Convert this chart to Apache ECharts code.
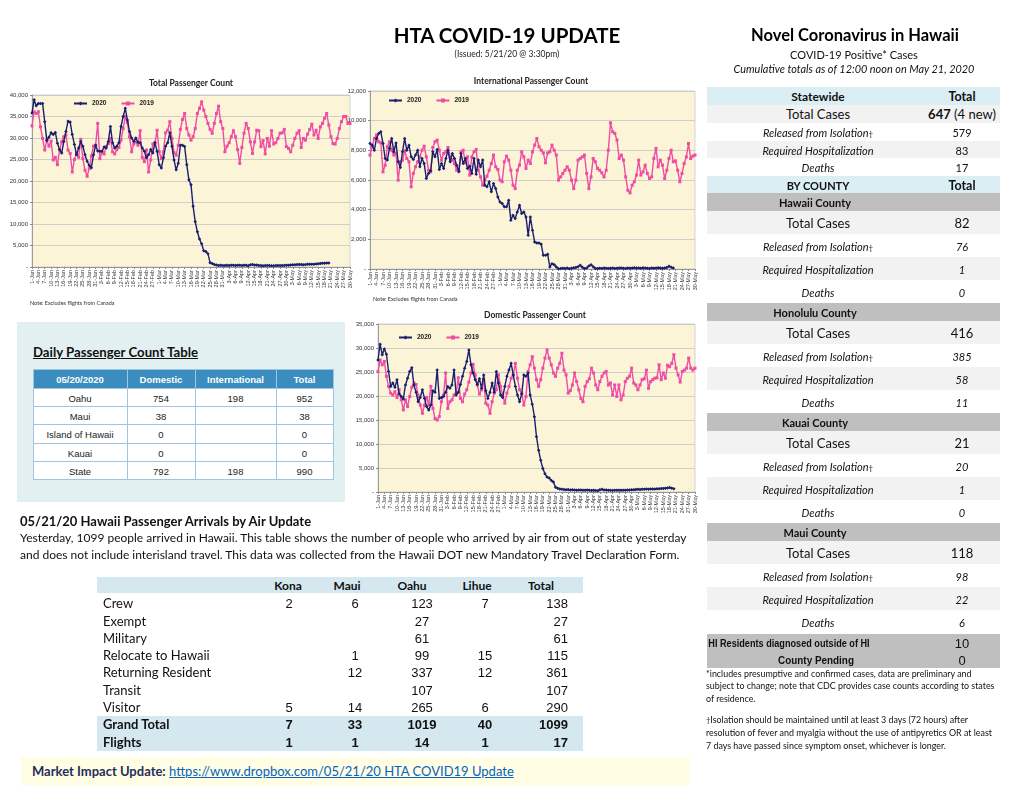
<!DOCTYPE html>
<html><head><meta charset="utf-8"><title>HTA COVID-19 UPDATE</title>
<script src="https://cdn.jsdelivr.net/npm/echarts@6/dist/echarts.min.js"></script>
<style>
html,body{margin:0;padding:0;background:#fff;}
#page{position:relative;width:1020px;height:788px;overflow:hidden;font-family:Lato,'Noto Sans',sans-serif;color:#111;}
#chart{position:absolute;left:0;top:0;width:1020px;height:788px;}
.c{position:absolute;transform:translate(-50%,-50%);white-space:nowrap;}
.lft{position:absolute;transform:translateY(-50%);white-space:nowrap;}
.rgt{position:absolute;transform:translate(-100%,-50%);white-space:nowrap;}
.box{position:absolute;box-sizing:border-box;}
</style></head>
<body><div id="page"><div id="chart"></div></div>
<script>
// ---------------- DATA ----------------
const months = ['Jan','Feb','Mar','Apr','May'];
const monthDays = [31,29,31,30,30];
const seriesNames = ['2020','2019'];

const total2020 = [35800,38900,37500,38000,38000,38000,33800,29400,30200,31200,
30800,31300,28800,27300,26500,29200,31500,33900,33700,30800,
28500,26100,27700,29200,28100,26100,24600,23600,23100,26100,
28300,27000,26900,26900,27900,27700,29200,32700,28900,27700,
28100,28900,32700,35000,36900,34200,31500,30000,29200,30000,
29000,28900,27700,26900,25400,26100,27300,26500,28900,26900,
23800,23000,25400,28100,28900,31200,28100,24900,22600,24100,
28300,28300,28000,23800,20300,19100,14100,10500,8200,6500,
5400,3800,3600,3100,1000,800,600,450,350,400,
320,350,380,360,420,400,350,420,380,330,
400,380,300,500,600,450,480,350,320,300,
330,340,320,300,310,320,340,330,350,370,
400,430,480,500,520,560,600,570,520,560,
620,650,620,640,700,740,800,860,900,950,920];

const total2019 = [32800,36100,35700,36100,32600,29900,27200,29500,28100,29300,
24900,25500,23800,27200,29100,30300,30700,27200,26400,22100,
25000,26400,25500,29700,25200,22500,21100,22900,25800,28100,
28300,33400,25200,26600,26300,28000,28700,29900,26800,26300,
27300,27800,29500,32200,35000,33600,30300,26800,28600,29100,
28300,31700,25500,24500,27200,22100,24900,28600,28900,31800,
26800,25200,26800,31200,31800,33800,29900,26600,26000,28300,
32000,34300,35700,32200,30700,29500,30300,32200,35700,36900,
38400,36500,35000,33400,32000,31100,33400,35700,37400,33800,
32200,26800,28100,28900,30300,31700,30300,27300,24100,27800,
31100,33400,32200,29100,26400,29100,31800,31700,28000,29400,
26300,29900,28100,31700,28600,28900,29900,31100,31200,32000,
28000,27600,26800,28300,29900,31100,31700,27800,29900,29500,
30900,32000,33200,30700,31800,29900,32600,33400,34600,35700,
33000,30300,28700,28600,29900,32200,33800,35000,35000,33400,
33400];

const intl2020 = [8460,8350,8000,8800,9140,9250,8460,7450,7340,8130,
8800,7900,8500,7230,6840,7900,8800,8000,8350,7560,
7380,7680,8010,6890,7450,7110,6100,6440,6620,7900,
7560,8060,6710,7110,6780,7450,8010,7230,7790,7450,
7000,6550,7790,7110,7450,6780,6930,6440,7450,6390,
7340,6890,7340,5650,5540,5880,5200,5760,5420,4860,
4520,4410,4190,4190,4640,3290,3620,3400,3850,4300,
3740,3850,3510,2270,3510,2610,1820,1760,1760,1670,
920,920,990,140,360,290,140,20,
30,50,40,60,20,50,80,100,150,250,120,30,
60,200,280,150,40,30,50,40,60,50,
40,50,60,40,50,60,70,50,40,60,
50,60,80,70,60,50,80,60,50,40,
60,50,60,80,60,50,70,100,180,120,60];

const intl2019 = [7680,8240,8800,9030,8580,8510,6550,7000,8240,8580,
8010,7680,7790,5990,7230,7340,7970,7450,7230,5540,
6440,6890,7230,7560,8010,8280,7560,6660,6550,8190,
8580,8690,8010,7340,7790,7900,8190,7560,7340,7110,
6660,6620,7900,8010,7160,7560,6330,7560,7900,8060,
6660,6210,5650,5990,6260,6660,7110,7680,6890,6710,
5990,5880,7230,7610,7340,6660,5650,5420,6660,7000,
7900,7560,6780,7340,7110,7900,8350,8800,8240,8010,
7830,7160,7830,7900,8350,8010,7680,5990,6210,6440,
6660,6890,6660,5990,5420,5990,7340,7450,7560,7680,
6440,5420,6210,7450,7230,6780,6660,6480,6210,6660,
8010,9860,9250,9140,8690,7450,7680,7340,6210,5310,
5130,5650,5880,6330,7340,6330,6550,7000,6440,6100,
6210,7450,8130,6890,7340,7000,6100,6660,7450,8010,
7230,7290,6660,5880,6440,7110,7560,8460,7450,7610,
7680];

const dom2020 = [27500,30800,28600,29800,28700,25100,22000,22700,21800,23400,
20400,19900,19400,22300,23700,25100,25900,22300,20800,18800,
19700,21300,19500,17800,17100,18100,21100,20800,25400,19500,
19700,19900,20800,22000,21600,22300,25400,20200,20800,22400,
24100,25800,27200,29600,26500,24800,23400,22400,23600,21600,
24400,21100,19500,20800,22700,20800,25100,22700,20200,19700,
22000,24100,25400,26800,24400,22000,20200,18800,20400,24400,
24100,24800,20200,18300,15700,11500,8700,6600,4900,3800,
3100,2900,2400,2100,1000,800,
600,550,500,450,500,400,450,420,380,400,
420,380,350,400,380,300,350,300,280,450,
550,400,420,380,350,330,350,340,360,380,
350,380,400,420,450,480,520,550,500,560,
580,600,560,620,650,620,680,700,720,750,
800,850,920,800,700];

const dom2019 = [25100,27500,26500,27200,24100,22000,20600,20200,20900,19700,
21300,19200,17100,19200,17800,19900,21800,22700,22400,20200,
18100,16400,18100,19700,18100,22000,17400,15300,15000,15700,
18800,20200,24800,17400,18800,19200,20200,20600,
23800,19500,18800,20400,21300,22900,24800,26600,24400,22300,
20400,21300,23400,18500,18100,16400,18800,20600,21300,
24400,22000,20200,18500,20600,22000,23700,24400,26800,23700,
21300,20600,18100,19900,25100,26500,28200,25800,23400,22000,
23400,25800,27900,29600,27900,26500,24800,24100,25800,26800,
28900,25400,24400,20600,21100,22300,24800,23000,21300,
19500,18800,22000,23000,23600,25800,24800,22300,21300,23000,
24100,24800,25100,22300,22700,20200,22300,19900,22300,
19200,20200,23000,23700,24100,25800,22700,22300,21300,
22300,23400,23600,25400,21600,23000,23400,23700,23800,
26500,23400,24800,23700,26400,26100,26800,28600,25800,24400,
22900,25100,25400,25800,27900,25800,25400,25800];

const chartTitles = ['Total Passenger Count','International Passenger Count','Domestic Passenger Count'];
const yMax = [40000, 12000, 35000];
const yStep = [5000, 2000, 5000];
const noteText = 'Note: Excludes flights from Canada';

// Daily passenger count table
const dailyHeader = ['05/20/2020','Domestic','International','Total'];
const dailyRows = [['Oahu','754','198','952'],['Maui','38','','38'],['Island of Hawaii','0','','0'],['Kauai','0','','0'],['State','792','198','990']];

// Arrivals table
const arrivalCols = ['Kona','Maui','Oahu','Lihue','Total'];
const arrivalRows = ['Crew','Exempt','Military','Relocate to Hawaii','Returning Resident','Transit','Visitor'];
const arrivalVals = [['2','6','123','7','138'],['','','27','','27'],['','','61','','61'],['','1','99','15','115'],['','12','337','12','361'],['','','107','','107'],['5','14','265','6','290']];
const grandTotal = ['7','33','1019','40','1099'];
const flights = ['1','1','14','1','17'];

// COVID case table
const caseLabels = ['Total Cases','Released from Isolation','Required Hospitalization','Deaths'];
const statewideVals = ['647','579','83','17'];
const counties = ['Hawaii County','Honolulu County','Kauai County','Maui County'];
const countyVals = [['82','76','1','0'],['416','385','58','11'],['21','20','1','0'],['118','98','22','6']];
const hiResidents = '10';
const countyPending = '0';

// ---------------- CHARTS ----------------
const dates = [];
months.forEach((m,i)=>{ for(let d=1; d<=monthDays[i]; d++) dates.push(d+'-'+m); });

const NAVY = '#1B1F6D', PINK = '#EF4CA4';
const grids = [
  {left:32, top:95, width:318, height:172},
  {left:370, top:91, width:325, height:178},
  {left:378, top:324, width:317, height:168}
];
function fmt(v){ if(v===0) return '-'; return String(v).replace(/\B(?=(\d{3})+(?!\d))/g, ','); }

const seriesData = [[total2020,total2019],[intl2020,intl2019],[dom2020,dom2019]];
const option = {
  animation:false,
  backgroundColor:'transparent',
  grid: grids.map(g=>Object.assign({show:true, backgroundColor:'#FCF4D7', borderColor:'#b8b8b8', borderWidth:0.6}, g)),
  xAxis: grids.map((g,i)=>({type:'category', gridIndex:i, data:dates, boundaryGap:false,
    axisLine:{lineStyle:{color:'#8a8a8a', width:0.8}}, axisTick:{show:true, interval:2, length:2, lineStyle:{color:'#8a8a8a'}},
    axisLabel:{interval:2, rotate:90, fontSize:5.5, color:'#333', margin:3, fontFamily:'Liberation Sans'}, splitLine:{show:false}})),
  yAxis: grids.map((g,i)=>({type:'value', gridIndex:i, min:0, max:yMax[i], interval:yStep[i],
    axisLine:{show:true, lineStyle:{color:'#8a8a8a', width:0.8}}, axisTick:{show:true, length:2, lineStyle:{color:'#8a8a8a'}},
    axisLabel:{fontSize:6, color:'#333', margin:4, formatter:fmt, fontFamily:'Liberation Sans'},
    splitLine:{lineStyle:{color:'#c4c4c4', width:0.8}}})),
  legend: [
    {left:73, top:100},
    {left:388, top:97},
    {left:398, top:334}
  ].map(p=>Object.assign({data:seriesNames, itemWidth:13, itemHeight:5, itemGap:14, textStyle:{fontSize:6.5, color:'#222', fontFamily:'Liberation Sans', fontWeight:'bold'}, padding:0}, p)),
  series: [],
  graphic: [
    {type:'text', x:191, y:83, style:{text:chartTitles[0], font:'bold 8.5px Lato', fill:'#222', align:'center', verticalAlign:'middle'}},
    {type:'text', x:531, y:81, style:{text:chartTitles[1], font:'bold 8.5px Lato', fill:'#222', align:'center', verticalAlign:'middle'}},
    {type:'text', x:535, y:315, style:{text:chartTitles[2], font:'bold 8.5px Lato', fill:'#222', align:'center', verticalAlign:'middle'}},
    {type:'text', x:30, y:303, style:{text:noteText, font:'5.5px Lato', fill:'#333', verticalAlign:'middle'}},
    {type:'text', x:373, y:299, style:{text:noteText, font:'5.5px Lato', fill:'#333', verticalAlign:'middle'}}
  ]
};
seriesData.forEach((pair,i)=>{
  pair.forEach((arr,j)=>{
    option.series.push({type:'line', name:seriesNames[j], xAxisIndex:i, yAxisIndex:i, data:arr,
      symbol: j===0 ? 'diamond' : 'rect', symbolSize: j===0 ? 3.5 : 3, showAllSymbol:true,
      itemStyle:{color: j===0?NAVY:PINK}, lineStyle:{color: j===0?NAVY:PINK, width:1.4}, z: j===0?3:2});
  });
});
const chart = echarts.init(document.getElementById('chart'));
chart.setOption(option);

// ---------------- HTML PARTS ----------------
const page = document.getElementById('page');
function el(cls,x,y,html,style){ const d=document.createElement('div'); d.className=cls; d.style.left=x+'px'; d.style.top=y+'px'; d.innerHTML=html; if(style) d.style.cssText+=';'+style; page.appendChild(d); return d; }
function rect(x,y,w,h,style){ const d=document.createElement('div'); d.className='box'; d.style.cssText='left:'+x+'px;top:'+y+'px;width:'+w+'px;height:'+h+'px;'+(style||''); page.appendChild(d); return d; }

// headers
el('c',507,35,'HTA COVID-19 UPDATE','font:bold 20.5px Lato;color:#000');
el('c',507,54,'(Issued: 5/21/20 @ 3:30pm)','font:8.5px Lato;color:#222');
el('c',855,35,'Novel Coronavirus in Hawaii','font:bold 16.5px Lato;color:#000');
el('c',854,54,'COVID-19 Positive* Cases','font:11px Lato;color:#111');
el('c',854,68,'Cumulative totals as of 12:00 noon on May 21, 2020','font:italic 10.9px Lato;color:#111');

// COVID table
const L=707, W=293, LC=818, VC=962;
const BLUE='#DBEEF3', GRAY='#BFBFBF', LIGHT='#F2F2F2';
const dag = '<span style="font-size:8px;font-style:normal">&dagger;</span>';
rect(L,87,W,18,'background:'+BLUE);
el('c',LC,96,'Statewide','font:bold 12px Lato');
el('c',VC,96,'Total','font:bold 12.5px Lato');
const swTops=[105,123,141,158], swH=[18,18,17,18];
caseLabels.forEach((lab,i)=>{
  if(i%2===0) rect(L,swTops[i],W,swH[i],'background:'+LIGHT);
  const cy = swTops[i]+swH[i]/2;
  if(i===0){
    el('c',LC,cy,lab,'font:13px Lato');
    el('c',VC,cy,'<b>'+statewideVals[0]+'</b> (4 new)','font:13px Lato');
  } else {
    el('c',LC,cy,lab+(i===1?dag:''),'font:italic 11px Lato');
    el('c',VC,cy,statewideVals[i],'font:11px Lato');
  }
});
rect(L,176,W,17,'background:'+BLUE);
el('c',LC,184.5,'BY COUNTY','font:bold 11px Lato');
el('c',VC,184.5,'Total','font:bold 12.5px Lato');
counties.forEach((cn,k)=>{
  const y0 = 193 + k*110;
  rect(L,y0,W,18,'background:'+GRAY);
  el('c',815,y0+9,cn,'font:bold 11px Lato');
  caseLabels.forEach((lab,i)=>{
    const top = y0+18+i*23;
    if(i%2===0) rect(L,top,W,23,'background:'+LIGHT);
    const cy = top+11.5;
    if(i===0){
      el('c',LC,cy,lab,'font:13px Lato');
      el('c',VC,cy,countyVals[k][0],'font:13px Lato');
    } else {
      el('c',LC,cy,lab+(i===1?dag:''),'font:italic 11px Lato');
      el('c',VC,cy,countyVals[k][i],'font:italic 11px Lato');
    }
  });
});
rect(L,634,W,34,'background:'+GRAY);
el('c',789,643,'HI Residents diagnosed outside of HI','font:bold 11px "Liberation Sans";transform:translate(-50%,-50%) scaleX(0.83)');
el('c',VC,643,hiResidents,'font:13px "Liberation Sans"');
el('c',816,660,'County Pending','font:bold 11px "Liberation Sans";transform:translate(-50%,-50%) scaleX(0.9)');
el('c',VC,660,countyPending,'font:13px "Liberation Sans"');
const fn = 'position:absolute;left:706px;font:8.9px Lato;line-height:12.4px;color:#111;white-space:nowrap';
const f1 = document.createElement('div'); f1.style.cssText=fn+';top:668px';
f1.innerHTML='*includes presumptive and confirmed cases, data are preliminary and<br>subject to change; note that CDC provides case counts according to states<br>of residence.';
page.appendChild(f1);
const f2 = document.createElement('div'); f2.style.cssText=fn+';top:714px';
f2.innerHTML='<span style="font-size:7.5px">&dagger;</span>Isolation should be maintained until at least 3 days (72 hours) after<br>resolution of fever and myalgia without the use of antipyretics OR at least<br>7 days have passed since symptom onset, whichever is longer.';
page.appendChild(f2);

// Daily passenger count panel
rect(17,322,328,180,'background:#E3F0F2');
el('lft',33,352,'Daily Passenger Count Table','font:bold 13.2px Lato;text-decoration:underline;color:#111');
const colX=[33,127,195,276,333], rowY=[369,388,406,424,443,461,479];
for(let r=0;r<6;r++){
  for(let c=0;c<4;c++){
    const hdr = r===0;
    rect(colX[c],rowY[r],colX[c+1]-colX[c]+1,rowY[r+1]-rowY[r]+1,'border:1px solid #9FC5E2;background:'+(hdr?'#3A8DBE':'#fff'));
    const txt = hdr ? dailyHeader[c] : dailyRows[r-1][c];
    el('c',(colX[c]+colX[c+1])/2,(rowY[r]+rowY[r+1])/2+0.5,txt,
      hdr?'font:bold 9.5px "Liberation Sans";color:#fff':'font:9.5px "Liberation Sans";color:#222');
  }
}

// Arrivals text
el('lft',20,521,'05/21/20 Hawaii Passenger Arrivals by Air Update','font:bold 13px Lato;color:#111');
el('lft',20,537,'Yesterday, 1099 people arrived in Hawaii. This table shows the number of people who arrived by air from out of state yesterday','font:12px Lato;color:#111');
el('lft',20,554,'and does not include interisland travel. This data was collected from the Hawaii DOT new Mandatory Travel Declaration Form.','font:12px Lato;color:#111');

// Arrivals table
rect(97,577,486,16,'background:#D5E8F0');
rect(97,716,486,35,'background:#D5E8F0');
const colCenters=[289,355,422,485];
const hdrCenters=[288,347,412,477,541];
arrivalCols.forEach((h,i)=>el('c',hdrCenters[i],585,h,'font:bold 12px Lato'));
const rowCy=[603,621,638,655,672,690,707];
function numRow(vals,cy,bold){
  vals.forEach((v,i)=>{
    if(v==='') return;
    const st='font:'+(bold?'bold ':'')+'13px "Liberation Sans";color:#111';
    if(i<4) el('c',colCenters[i],cy,v,st); else el('rgt',568,cy,v,st);
  });
}
arrivalRows.forEach((lab,r)=>{
  el('lft',103,rowCy[r],lab,'font:13px Lato;color:#111');
  numRow(arrivalVals[r],rowCy[r],false);
});
el('lft',103,724,'Grand Total','font:bold 13px Lato;color:#111');
numRow(grandTotal,724,true);
el('lft',103,742,'Flights','font:bold 13px Lato;color:#111');
numRow(flights,742,true);

// market impact band
rect(21,757,669,28,'background:#FFFDE3');
el('lft',32,771,'<b style="color:#1F2F5C">Market Impact Update:</b> <span style="color:#0563C1;text-decoration:underline">https://www.dropbox.com/05/21/20 HTA COVID19 Update</span>','font:13px Lato');
</script></body></html>
